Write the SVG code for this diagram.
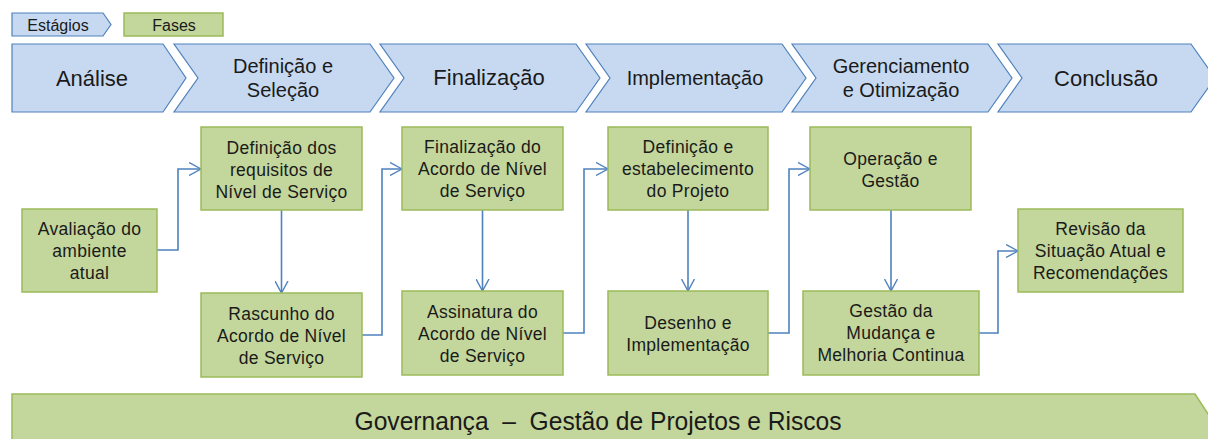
<svg xmlns="http://www.w3.org/2000/svg" width="1208" height="439" viewBox="0 0 1208 439">
<defs>
<style>
.stage{fill:#C6D9F1;stroke:#4F81BD;stroke-width:1.2}
.phase{fill:#C3D69B;stroke:#9BBB59;stroke-width:1.5}
.t{font-family:"Liberation Sans",Arial,sans-serif;fill:#1a1a1a;text-anchor:middle}
.st22{font-size:22px}
.st20{font-size:20px}
.pt{font-size:17.5px;letter-spacing:0.3px}
.lg{font-size:16px}
.conn{fill:none;stroke:#4F81BD;stroke-width:1.6}
</style>
<marker id="arr" viewBox="0 0 12 14" refX="12" refY="7" markerWidth="12" markerHeight="14" markerUnits="userSpaceOnUse" orient="auto">
<path d="M0,0.5 L12,7 L0,13.5" fill="none" stroke="#4F81BD" stroke-width="1.4"/>
</marker>
</defs>
<rect width="1208" height="439" fill="#fff"/>

<g id="legend">
<g id="legend-estagios">
<polygon class="stage" points="12,13 103,13 111,24.5 103,36 12,36"/>
<text class="t lg" x="58" y="31">Estágios</text>
</g>
<g id="legend-fases">
<rect class="phase" x="124" y="13" width="99" height="23"/>
<text class="t lg" x="174" y="31">Fases</text>
</g>
</g>

<g id="stage-analise">
<polygon class="stage" points="12,44 163,44 186,78 163,112 12,112"/>
<text class="t st22" x="92" y="86">Análise</text>
</g>
<g id="stage-definicao">
<polygon class="stage" points="174,44 370,44 394,78 370,112 174,112 198,78"/>
<text class="t st20" x="283" y="73">Definição e</text>
<text class="t st20" x="283" y="97">Seleção</text>
</g>
<g id="stage-finalizacao">
<polygon class="stage" points="380,44 576,44 600,78 576,112 380,112 404,78"/>
<text class="t st22" x="489" y="85">Finalização</text>
</g>
<g id="stage-implementacao">
<polygon class="stage" points="586,44 782,44 806,78 782,112 586,112 610,78"/>
<text class="t st20" x="695" y="85">Implementação</text>
</g>
<g id="stage-gerenciamento">
<polygon class="stage" points="792,44 988,44 1012,78 988,112 792,112 816,78"/>
<text class="t st20" x="901" y="73">Gerenciamento</text>
<text class="t st20" x="901" y="97">e Otimização</text>
</g>
<g id="stage-conclusao">
<polygon class="stage" points="998,44 1191,44 1215,78 1191,112 998,112 1022,78"/>
<text class="t st22" x="1106" y="86">Conclusão</text>
</g>

<g id="connectors">
<polyline class="conn" points="157,250 178,250 178,169 201,169" marker-end="url(#arr)"/>
<line class="conn" x1="281.5" y1="210" x2="281.5" y2="293" marker-end="url(#arr)"/>
<polyline class="conn" points="362,335 382,335 382,169 402,169" marker-end="url(#arr)"/>
<line class="conn" x1="482.5" y1="210" x2="482.5" y2="291" marker-end="url(#arr)"/>
<polyline class="conn" points="563,333 584,333 584,169 608,169" marker-end="url(#arr)"/>
<line class="conn" x1="688" y1="210" x2="688" y2="291" marker-end="url(#arr)"/>
<polyline class="conn" points="768,333 789,333 789,169 810,169" marker-end="url(#arr)"/>
<line class="conn" x1="891" y1="210" x2="891" y2="291" marker-end="url(#arr)"/>
<polyline class="conn" points="979,333 998,333 998,251 1018,251" marker-end="url(#arr)"/>
</g>

<g id="phase-avaliacao">
<rect class="phase" x="22" y="209" width="135" height="83"/>
<text class="t pt" x="89.5" y="235">Avaliação do</text>
<text class="t pt" x="89.5" y="257">ambiente</text>
<text class="t pt" x="89.5" y="279">atual</text>
</g>
<g id="phase-definicao-requisitos">
<rect class="phase" x="201" y="127" width="161" height="83"/>
<text class="t pt" x="281.5" y="154">Definição dos</text>
<text class="t pt" x="281.5" y="176">requisitos de</text>
<text class="t pt" x="281.5" y="198">Nível de Serviço</text>
</g>
<g id="phase-rascunho">
<rect class="phase" x="201" y="293" width="161" height="84"/>
<text class="t pt" x="281.5" y="320">Rascunho do</text>
<text class="t pt" x="281.5" y="342">Acordo de Nível</text>
<text class="t pt" x="281.5" y="364">de Serviço</text>
</g>
<g id="phase-finalizacao-acordo">
<rect class="phase" x="402" y="127" width="161" height="83"/>
<text class="t pt" x="482.5" y="153">Finalização do</text>
<text class="t pt" x="482.5" y="175">Acordo de Nível</text>
<text class="t pt" x="482.5" y="197">de Serviço</text>
</g>
<g id="phase-assinatura">
<rect class="phase" x="402" y="291" width="161" height="84"/>
<text class="t pt" x="482.5" y="318">Assinatura do</text>
<text class="t pt" x="482.5" y="340">Acordo de Nível</text>
<text class="t pt" x="482.5" y="362">de Serviço</text>
</g>
<g id="phase-definicao-projeto">
<rect class="phase" x="608" y="127" width="160" height="83"/>
<text class="t pt" x="688" y="153">Definição e</text>
<text class="t pt" x="688" y="175">estabelecimento</text>
<text class="t pt" x="688" y="197">do Projeto</text>
</g>
<g id="phase-desenho">
<rect class="phase" x="608" y="291" width="160" height="84"/>
<text class="t pt" x="688" y="329">Desenho e</text>
<text class="t pt" x="688" y="351">Implementação</text>
</g>
<g id="phase-operacao">
<rect class="phase" x="810" y="127" width="161" height="83"/>
<text class="t pt" x="890.5" y="165">Operação e</text>
<text class="t pt" x="890.5" y="187">Gestão</text>
</g>
<g id="phase-gestao-mudanca">
<rect class="phase" x="803" y="291" width="176" height="84"/>
<text class="t pt" x="891" y="317">Gestão da</text>
<text class="t pt" x="891" y="339">Mudança e</text>
<text class="t pt" x="891" y="361">Melhoria Continua</text>
</g>
<g id="phase-revisao">
<rect class="phase" x="1018" y="209" width="165" height="83"/>
<text class="t pt" x="1100.5" y="235">Revisão da</text>
<text class="t pt" x="1100.5" y="257">Situação Atual e</text>
<text class="t pt" x="1100.5" y="279">Recomendações</text>
</g>

<g id="governanca">
<polygon class="phase" points="12,394 1195,394 1225,440 12,440"/>
<text class="t" style="font-size:25px" x="598" y="430" textLength="487" lengthAdjust="spacingAndGlyphs">Governança&#160; –&#160; Gestão de Projetos e Riscos</text>
</g>
</svg>
